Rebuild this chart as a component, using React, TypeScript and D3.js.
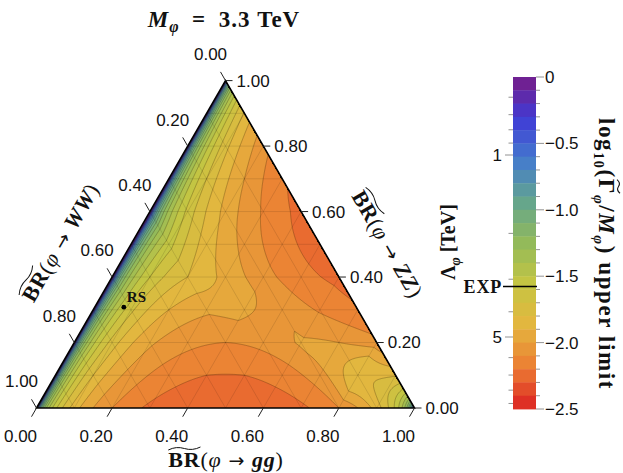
import React, { useEffect, useRef } from 'react';
import * as d3 from 'd3';

// ternary axes: BR(gg) along the bottom, BR(WW) on the left, BR(ZZ) on the right
const ggTicks = [0, 0.2, 0.4, 0.6, 0.8, 1.0];
const wwTicks = [0, 0.2, 0.4, 0.6, 0.8, 1.0];
const zzTicks = [0, 0.2, 0.4, 0.6, 0.8, 1.0];
const meshLevels = [0.1, 0.2, 0.3, 0.4, 0.5, 0.6, 0.7, 0.8, 0.9];

// log10(Gamma/M) upper limit on a 0.1 lattice.
// one row per BR(ZZ) value, entries for BR(gg) = 0, 0.1, 0.2, ...
// null = above the top of the scale (no gg production)
const limitZZ00 = [null, -1.85, -2.10, -2.22, -2.28, -2.29, -2.28, -2.22, -2.10, -1.85, null];
const limitZZ01 = [null, -1.80, -2.04, -2.15, -2.20, -2.20, -2.15, -2.04, -1.80, -1.81];
const limitZZ02 = [null, -1.74, -1.98, -2.07, -2.10, -2.07, -1.98, -2.00, -2.06];
const limitZZ03 = [null, -1.67, -1.90, -1.98, -1.98, -2.03, -2.11, -2.18];
const limitZZ04 = [null, -1.60, -1.80, -1.93, -2.06, -2.16, -2.23];
const limitZZ05 = [null, -1.55, -1.85, -2.03, -2.16, -2.25];
const limitZZ06 = [null, -1.63, -1.93, -2.11, -2.23];
const limitZZ07 = [null, -1.70, -2.00, -2.18];
const limitZZ08 = [null, -1.76, -2.06];
const limitZZ09 = [null, -1.81];
const limitZZ10 = [null];
const limitRows = [limitZZ00, limitZZ01, limitZZ02, limitZZ03, limitZZ04, limitZZ05,
    limitZZ06, limitZZ07, limitZZ08, limitZZ09, limitZZ10];

// RS graviton benchmark
const rsBR = { gg: 0.077, ww: 0.615, zz: 0.308 };

// colour bar
const barTicks = [0, -0.5, -1.0, -1.5, -2.0, -2.5];
const lambdaTicks = [0.6, 0.7, 0.8, 0.9, 1, 2, 3, 4, 5, 6, 7, 8, 9];
const lambdaLabels = [1, 5];
const lambdaExp = 3.2;

const rainbowStops = ["#781c86", "#403bd6", "#447ccd", "#64a58d", "#93ba5a",
    "#c5c542", "#e4b63f", "#ec7d33", "#db2122"];

const serif = "'Liberation Serif', 'DejaVu Serif', serif";
const sans = "'Liberation Sans', Arial, sans-serif";

// short wide tilde drawn over a stretch of text
function tildePath(x0, x1, y) {
    const w = x1 - x0;
    return `M${x0},${y + 1.5} Q${x0 + w / 4},${y - 2.5} ${x0 + w / 2},${y} T${x1},${y - 1.5}`;
}

function App() {
    const svgRef = useRef(null);

    useEffect(() => {
        const svg = d3.select(svgRef.current);
        svg.selectAll("*").remove();

        const xScale = d3.scaleLinear().domain([0, 1]).range([36.5, 414.5]);
        const yScale = d3.scaleLinear().domain([0, 1]).range([408, 80.6]);
        const pt = (gg, zz) => [xScale(gg + zz / 2), yScale(zz)];

        const nBands = 25;
        const rainbow = d3.scaleLinear()
            .domain(rainbowStops.map((_, i) => i / (rainbowStops.length - 1)))
            .range(rainbowStops)
            .interpolate(d3.interpolateRgb);
        const bandColor = k => rainbow((k + 0.5) / nBands);

        // work in 10^-v (inverse width), which is smooth up to the gg = 0 edge
        const uTable = limitRows.map(row => row.map(v => v == null ? 0 : Math.pow(10, -v)));

        // quadratic triangles of side 0.2 built on the 0.1 lattice
        const field = (gg, zz) => {
            let g = Math.max(0, gg), z = Math.max(0, zz);
            const s = g + z;
            if (s > 1) { g /= s; z /= s; }
            const G = g * 5, Z = z * 5;
            let i = Math.min(Math.floor(G), 4), j = Math.min(Math.floor(Z), 4);
            if (i + j > 4) { if (i > 0) i -= 1; else j -= 1; }
            const fg = G - i, fz = Z - j;
            let P, L;
            if (fg + fz <= 1) {
                P = [[i, j], [i + 1, j], [i, j + 1]];
                L = [1 - fg - fz, fg, fz];
            } else {
                P = [[i + 1, j + 1], [i, j + 1], [i + 1, j]];
                L = [fg + fz - 1, 1 - fg, 1 - fz];
            }
            let u = 0;
            for (let a = 0; a < 3; a++) {
                const b = (a + 1) % 3;
                u += L[a] * (2 * L[a] - 1) * uTable[2 * P[a][1]][2 * P[a][0]];
                u += 4 * L[a] * L[b] * uTable[P[a][1] + P[b][1]][P[a][0] + P[b][0]];
            }
            return Math.max(0, u);
        };

        const gx0 = 34, gy0 = 78, gw = 384, gh = 333;
        const values = new Float64Array(gw * gh);
        for (let j = 0; j < gh; j++) {
            for (let i = 0; i < gw; i++) {
                const zz = yScale.invert(gy0 + j + 0.5);
                const gg = xScale.invert(gx0 + i + 0.5) - zz / 2;
                values[j * gw + i] = field(gg, zz);
            }
        }
        const thresholds = d3.range(1, nBands).map(k => Math.pow(10, k / 10));
        const contours = d3.contours().size([gw, gh]).thresholds(thresholds)(values);
        const path = d3.geoPath();

        const corners = [pt(0, 1), pt(0, 0), pt(1, 0)];
        const triPoints = corners.map(p => p.join(",")).join(" ");

        svg.append("defs").append("clipPath").attr("id", "triClip")
            .append("polygon").attr("points", triPoints);

        const plot = svg.append("g").attr("clip-path", "url(#triClip)");
        plot.append("polygon").attr("points", triPoints).attr("fill", bandColor(0));

        const bands = plot.append("g").attr("transform", `translate(${gx0},${gy0})`);
        contours.forEach((c, idx) => {
            bands.append("path").attr("d", path(c)).attr("fill", bandColor(idx + 1));
        });
        contours.forEach(c => {
            bands.append("path").attr("d", path(c))
                .attr("fill", "none")
                .attr("stroke", "#2a1c00")
                .attr("stroke-opacity", 0.45)
                .attr("stroke-width", 0.6);
        });

        // 0.1 mesh
        const mesh = plot.append("g")
            .attr("stroke", "#000")
            .attr("stroke-opacity", 0.19)
            .attr("stroke-width", 0.6);
        meshLevels.forEach(t => {
            [[pt(t, 0), pt(t, 1 - t)], [pt(0, t), pt(1 - t, t)], [pt(1 - t, 0), pt(0, 1 - t)]]
                .forEach(([p, q]) => {
                    mesh.append("line")
                        .attr("x1", p[0]).attr("y1", p[1])
                        .attr("x2", q[0]).attr("y2", q[1]);
                });
        });

        svg.append("polygon")
            .attr("points", triPoints)
            .attr("fill", "none")
            .attr("stroke", "#000")
            .attr("stroke-width", 1.6)
            .attr("stroke-linejoin", "miter");

        // axis ticks and labels
        const fmt = d3.format(".2f");
        const axes = svg.append("g").attr("font-family", sans).attr("font-size", 17).attr("fill", "#111");
        const tick = (x1, y1, x2, y2) => axes.append("line")
            .attr("x1", x1).attr("y1", y1).attr("x2", x2).attr("y2", y2)
            .attr("stroke", "#222").attr("stroke-width", 1);

        ggTicks.forEach(t => {
            const [x, y] = pt(t, 0);
            tick(x, y, x - 5, y + 8.7);
            axes.append("text").attr("x", x - 16).attr("y", y + 28).attr("dy", "0.35em")
                .attr("text-anchor", "middle").text(fmt(t));
        });
        wwTicks.forEach(t => {
            const [x, y] = pt(0, 1 - t);
            tick(x, y, x - 5, y - 8.7);
            axes.append("text").attr("x", x - 15).attr("y", y - 26.5).attr("dy", "0.35em")
                .attr("text-anchor", "middle").text(fmt(t));
        });
        zzTicks.forEach(t => {
            const [x, y] = pt(1 - t, t);
            tick(x, y, x + 7, y);
            axes.append("text").attr("x", x + 11).attr("y", y).attr("dy", "0.35em")
                .attr("text-anchor", "start").text(fmt(t));
        });

        // axis titles with a wide tilde over BR
        const brTitle = (x, y, angle, channel) => {
            const g = svg.append("g").attr("transform", `translate(${x},${y}) rotate(${angle})`);
            const text = g.append("text")
                .attr("text-anchor", "middle")
                .attr("font-family", serif)
                .attr("font-size", 22)
                .attr("letter-spacing", 0.8)
                .attr("fill", "#111");
            text.append("tspan").attr("font-weight", "bold").text("BR");
            text.append("tspan").text("(");
            text.append("tspan").attr("font-style", "italic").text("φ");
            text.append("tspan").attr("font-family", "'DejaVu Sans', sans-serif").attr("font-size", 19).text(" → ");
            text.append("tspan").attr("font-weight", "bold").attr("font-style", "italic").text(channel);
            text.append("tspan").text(")");
            const node = text.node();
            const x0 = node.getStartPositionOfChar(0).x;
            const x1 = node.getEndPositionOfChar(1).x;
            g.append("path")
                .attr("d", tildePath(x0, x1, -18.5))
                .attr("fill", "none").attr("stroke", "#111").attr("stroke-width", 1);
        };
        brTitle(226, 467, 0, "gg");
        brTitle(67, 246, -60, "WW");
        brTitle(381, 248, 60, "ZZ");

        // plot title
        const title = svg.append("text")
            .attr("x", 224).attr("y", 27)
            .attr("text-anchor", "middle")
            .attr("font-family", serif)
            .attr("font-size", 23)
            .attr("font-weight", "bold")
            .attr("letter-spacing", 1)
            .attr("fill", "#111");
        title.append("tspan").attr("font-style", "italic").text("M");
        title.append("tspan").attr("font-style", "italic").attr("font-size", 16).attr("dy", 5).text("φ");
        title.append("tspan").attr("dy", -5).text("\u2002=\u20023.3 TeV");

        // RS benchmark
        const [rx, ry] = pt(rsBR.gg, rsBR.zz);
        svg.append("circle").attr("cx", rx).attr("cy", ry).attr("r", 2.4).attr("fill", "#000");
        svg.append("text").attr("x", rx + 3).attr("y", ry - 5)
            .attr("font-family", serif).attr("font-size", 15).attr("font-weight", "bold")
            .attr("fill", "#111").text("RS");

        // colour bar
        const barX = 513, barW = 23;
        const yBar = d3.scaleLinear().domain([0, -2.5]).range([77, 409]);
        const lambdaScale = d3.scaleLog().domain([1, 5]).range([155, 337]);
        const bar = svg.append("g");
        d3.range(nBands).forEach(k => {
            const y0 = yBar(-k / 10), y1 = yBar(-(k + 1) / 10);
            bar.append("rect")
                .attr("x", barX).attr("y", y0)
                .attr("width", barW).attr("height", y1 - y0 + 0.4)
                .attr("fill", bandColor(k));
        });
        d3.range(nBands + 1).forEach(k => {
            const y = yBar(-k / 10);
            bar.append("line")
                .attr("x1", barX + barW).attr("x2", barX + barW + (k % 5 === 0 ? 8 : 4))
                .attr("y1", y).attr("y2", y)
                .attr("stroke", "#777").attr("stroke-width", 0.8);
        });
        barTicks.forEach(v => {
            bar.append("text")
                .attr("x", 545).attr("y", yBar(v)).attr("dy", "0.35em")
                .attr("font-family", sans).attr("font-size", 17).attr("fill", "#111")
                .text(v === 0 ? "0" : d3.format(".1f")(v));
        });
        lambdaTicks.forEach(l => {
            const y = lambdaScale(l);
            const major = lambdaLabels.includes(l);
            bar.append("line")
                .attr("x1", barX - (major ? 8 : 4.5)).attr("x2", barX)
                .attr("y1", y).attr("y2", y)
                .attr("stroke", "#777").attr("stroke-width", 0.8);
        });
        lambdaLabels.forEach(l => {
            bar.append("text")
                .attr("x", 502).attr("y", lambdaScale(l)).attr("dy", "0.35em")
                .attr("text-anchor", "end")
                .attr("font-family", sans).attr("font-size", 17).attr("fill", "#111")
                .text(l);
        });
        const yExp = lambdaScale(lambdaExp);
        bar.append("line")
            .attr("x1", 503).attr("x2", barX + barW + 1)
            .attr("y1", yExp).attr("y2", yExp)
            .attr("stroke", "#000").attr("stroke-width", 1.5);
        bar.append("text")
            .attr("x", 502).attr("y", yExp).attr("dy", "0.35em")
            .attr("text-anchor", "end")
            .attr("font-family", serif).attr("font-size", 18).attr("font-weight", "bold")
            .attr("letter-spacing", 0.8)
            .attr("fill", "#111").text("EXP");

        // Lambda axis title
        const lam = svg.append("text")
            .attr("transform", "translate(455,242) rotate(-90)")
            .attr("text-anchor", "middle")
            .attr("font-family", serif).attr("font-size", 20).attr("font-weight", "bold")
            .attr("fill", "#111");
        lam.append("tspan").text("Λ");
        lam.append("tspan").attr("font-style", "italic").attr("font-size", 14).attr("dy", 5).text("φ");
        lam.append("tspan").attr("dy", -5).text(" [TeV]");

        // colour bar title, tilde over Gamma drawn separately
        const cbg = svg.append("g").attr("transform", "translate(599,254) rotate(90)");
        const cb = cbg.append("text")
            .attr("text-anchor", "middle")
            .attr("font-family", serif).attr("font-size", 23).attr("font-weight", "bold")
            .attr("letter-spacing", 1.6)
            .attr("fill", "#111");
        cb.append("tspan").text("log");
        cb.append("tspan").attr("font-size", 14).attr("dy", 5).text("10");
        cb.append("tspan").attr("dy", -5).text("(Γ");
        cb.append("tspan").attr("font-style", "italic").attr("font-size", 15).attr("dy", 5).text("φ");
        cb.append("tspan").attr("dy", -5).text("/");
        cb.append("tspan").attr("font-style", "italic").text("M");
        cb.append("tspan").attr("font-style", "italic").attr("font-size", 15).attr("dy", 5).text("φ");
        cb.append("tspan").attr("dy", -5).text(") upper limit");
        const cbNode = cb.node();
        const gStart = cbNode.getStartPositionOfChar(6).x;
        const gEnd = cbNode.getEndPositionOfChar(6).x - 1.6;
        cbg.append("path")
            .attr("d", tildePath(gStart + 1, gEnd, -19.5))
            .attr("fill", "none").attr("stroke", "#111").attr("stroke-width", 1.1);
    }, []);

    return (
        <svg
            ref={svgRef}
            width={623}
            height={473}
            style={{ position: 'absolute', left: 0, top: 0, background: '#fff' }}
        />
    );
}

export default App;
